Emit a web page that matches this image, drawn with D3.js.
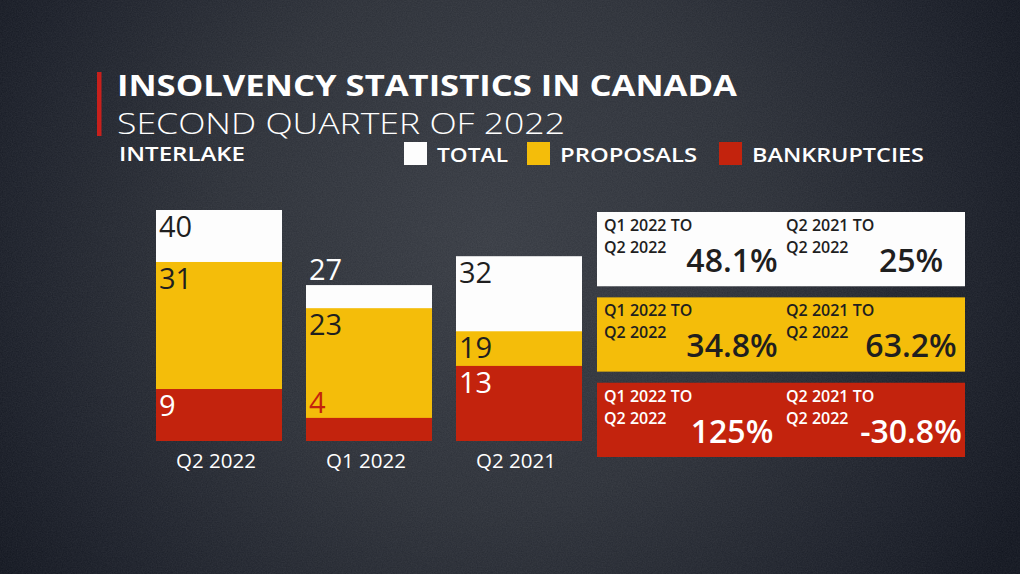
<!DOCTYPE html>
<html>
<head>
<meta charset="utf-8">
<script src="https://cdn.jsdelivr.net/npm/d3@7"></script>
<style>
  html, body { margin: 0; padding: 0; background: #1a1e27; }
  svg { display: block; }
  text { font-family: "Open Sans", "Lato", sans-serif; }
</style>
</head>
<body>
<svg id="chart" width="1020" height="574"></svg>
<script>
// ---- data ----
const categories = ["Q2 2022", "Q1 2022", "Q2 2021"];
const totalValues = [40, 27, 32];
const proposalValues = [31, 23, 19];
const bankruptcyValues = [9, 4, 13];

const seriesNames = ["TOTAL", "PROPOSALS", "BANKRUPTCIES"];
const seriesColors = ["#fdfdfd", "#f4bd0a", "#c3230d"];
const seriesTextColors = ["#1f1f1f", "#1f1f1f", "#ffffff"];

const changeFromLabels = ["Q1 2022 TO", "Q2 2021 TO"];
const changeToLabel = "Q2 2022";
const changeQ1toQ2 = ["48.1%", "34.8%", "125%"];
const changeQ2toQ2 = ["25%", "63.2%", "-30.8%"];

const titleText = "INSOLVENCY STATISTICS IN CANADA";
const subtitleText = "SECOND QUARTER OF 2022";
const regionText = "INTERLAKE";

// ---- drawing ----
const svg = d3.select("#chart");
const W = 1020, H = 574;
const defs = svg.append("defs");

const rg = defs.append("radialGradient").attr("id", "bg")
  .attr("cx", 490).attr("cy", 240).attr("r", 600)
  .attr("gradientUnits", "userSpaceOnUse");
rg.append("stop").attr("offset", "0%").attr("stop-color", "#363a42");
rg.append("stop").attr("offset", "45%").attr("stop-color", "#2b2f37");
rg.append("stop").attr("offset", "80%").attr("stop-color", "#1a1e28");
rg.append("stop").attr("offset", "100%").attr("stop-color", "#10141e");

const noise = defs.append("filter").attr("id", "noise")
  .attr("x", 0).attr("y", 0).attr("width", "100%").attr("height", "100%");
noise.append("feTurbulence").attr("type", "fractalNoise")
  .attr("baseFrequency", 0.8).attr("numOctaves", 3).attr("seed", 3).attr("result", "t");
noise.append("feColorMatrix").attr("type", "matrix")
  .attr("values", "0 0 0 0 1  0 0 0 0 1  0 0 0 0 1  0 0 0 0.08 0");

svg.append("rect").attr("width", W).attr("height", H).attr("fill", "url(#bg)");
svg.append("rect").attr("width", W).attr("height", H).attr("filter", "url(#noise)");

// title block
svg.append("rect").attr("x", 97).attr("y", 72).attr("width", 4.5).attr("height", 64)
  .attr("fill", "#c8201c");
svg.append("text").attr("x", 117).attr("y", 95.5).text(titleText)
  .attr("fill", "#ffffff").attr("font-size", 28.5).attr("font-weight", 700)
  .attr("textLength", 620).attr("lengthAdjust", "spacingAndGlyphs");
svg.append("text").attr("x", 117).attr("y", 133.5).text(subtitleText)
  .attr("fill", "#ffffff").attr("font-size", 28.5).attr("font-weight", 300)
  .attr("textLength", 448).attr("lengthAdjust", "spacingAndGlyphs");
svg.append("text").attr("x", 119).attr("y", 161).text(regionText)
  .attr("fill", "#ffffff").attr("font-size", 19).attr("font-weight", 600)
  .attr("textLength", 126).attr("lengthAdjust", "spacingAndGlyphs");

// legend
const legendX = [404, 527, 719];
const legendW = [71, 137, 172];
const lg = svg.append("g");
seriesNames.forEach((name, i) => {
  lg.append("rect").attr("x", legendX[i]).attr("y", 142).attr("width", 23).attr("height", 23)
    .attr("fill", seriesColors[i]);
  lg.append("text").attr("x", legendX[i] + 33).attr("y", 162).text(name)
    .attr("fill", "#ffffff").attr("font-size", 20).attr("font-weight", 600)
    .attr("textLength", legendW[i]).attr("lengthAdjust", "spacingAndGlyphs");
});

// scales
const x = d3.scaleBand().domain(categories).range([156, 582]).paddingInner(0.16).paddingOuter(0);
const y = d3.scaleLinear().domain([0, 40]).range([441, 210]);

const rows = categories.map((c, i) => ({
  cat: c,
  vals: [totalValues[i], proposalValues[i], bankruptcyValues[i]]
}));

const bars = svg.append("g");
rows.forEach(r => {
  r.vals.forEach((v, s) => {
    bars.append("rect")
      .attr("x", x(r.cat)).attr("y", y(v))
      .attr("width", x.bandwidth()).attr("height", y(0) - y(v))
      .attr("fill", seriesColors[s]);
  });
  // labels
  r.vals.forEach((v, s) => {
    const next = s < 2 ? r.vals[s + 1] : 0;
    const visible = y(next) - y(v);
    let ty, col;
    if (visible >= 30) {
      ty = y(v) + 27;
      col = seriesTextColors[s];
    } else {
      ty = y(v) - 5;
      col = seriesColors[s];
    }
    bars.append("text")
      .attr("x", x(r.cat) + 3).attr("y", ty).text(v)
      .attr("fill", col).attr("font-size", 29).attr("font-weight", 500);
  });
});

// category axis labels
svg.append("g").selectAll("text").data(categories).join("text")
  .attr("x", d => x(d) + x.bandwidth() / 2 - 3).attr("y", 468)
  .attr("text-anchor", "middle").text(d => d)
  .attr("fill", "#ffffff").attr("font-size", 20.5).attr("font-weight", 500);

// change boxes
const boxY = d3.scaleBand().domain(seriesNames).range([212, 457]).paddingInner(0.13).paddingOuter(0);
const boxX = 597, boxW = 368;
const bg = svg.append("g");
seriesNames.forEach((name, i) => {
  const by = boxY(name);
  bg.append("rect").attr("x", boxX).attr("y", by).attr("width", boxW).attr("height", boxY.bandwidth())
    .attr("fill", seriesColors[i]);
  const tc = seriesTextColors[i];
  const cols = [{ lx: boxX + 7, px: boxX + 135, val: changeQ1toQ2[i], from: changeFromLabels[0] },
                { lx: boxX + 189, px: boxX + 314, val: changeQ2toQ2[i], from: changeFromLabels[1] }];
  cols.forEach(c => {
    bg.append("text").attr("x", c.lx).attr("y", by + 19).text(c.from)
      .attr("fill", tc).attr("font-size", 16).attr("font-weight", 600);
    bg.append("text").attr("x", c.lx).attr("y", by + 41).text(changeToLabel)
      .attr("fill", tc).attr("font-size", 16).attr("font-weight", 600);
    bg.append("text").attr("x", c.px).attr("y", by + 60).text(c.val)
      .attr("text-anchor", "middle")
      .attr("fill", tc).attr("font-size", 32).attr("font-weight", 600);
  });
});
</script>
</body>
</html>
